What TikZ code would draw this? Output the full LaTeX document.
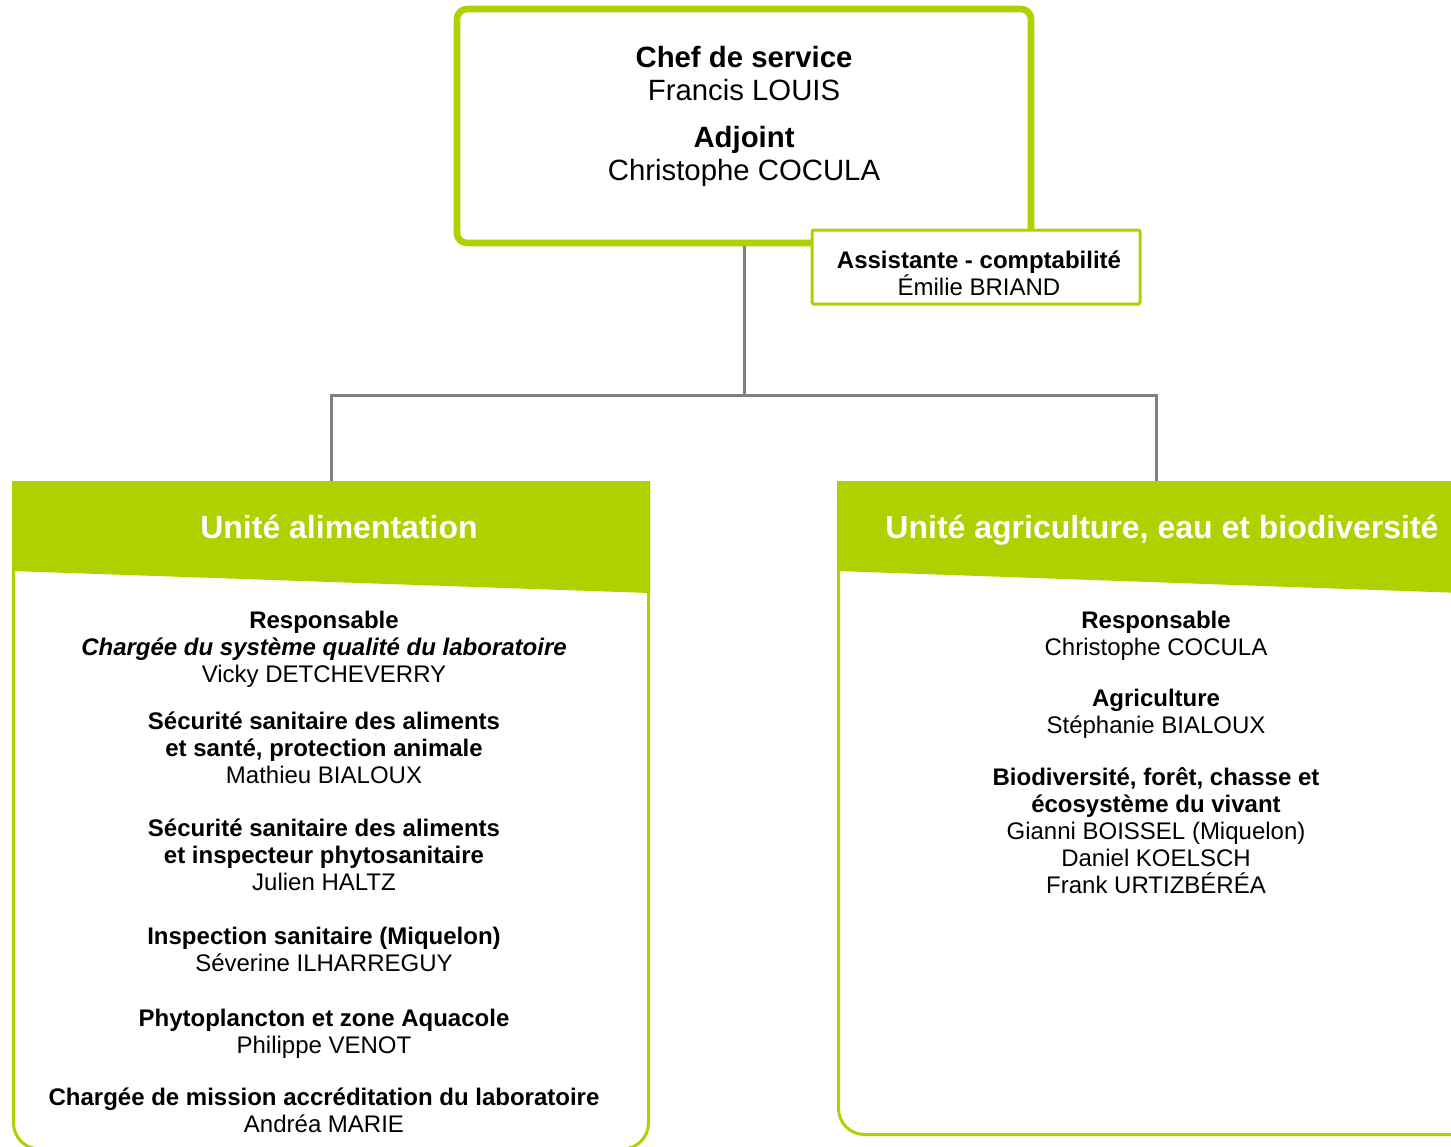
\documentclass[tikz,border=0pt]{standalone}
\usepackage{fontspec}
\setmainfont{Liberation Sans}
\definecolor{leafgreen}{RGB}{176,208,0}
\definecolor{linkgray}{RGB}{128,128,128}

\begin{document}
\begin{tikzpicture}[x=0.75pt,y=0.75pt,yscale=-1,xscale=1,
    chefbox/.style={draw=leafgreen, line width=5pt, rounded corners=7.5pt, fill=white, minimum width=430.5pt, minimum height=175.5pt, inner sep=0pt},
    assistbox/.style={draw=leafgreen, line width=2.25pt, rounded corners=1.5pt, fill=white, minimum width=246pt, minimum height=55.5pt, inner sep=0pt},
    unitline/.style={draw=leafgreen, line width=2.25pt, rounded corners=19.5pt},
    link/.style={draw=linkgray, line width=2.25pt},
    headtxt/.style={text=white, font=\fontsize{24}{28}\selectfont\bfseries, anchor=base, inner sep=0pt},
    bodytxt/.style={align=center, font=\fontsize{18}{20.25}\selectfont, anchor=base, inner sep=0pt},
  ]
\useasboundingbox (0,0) rectangle (1451,1146);

% Top box
\node[chefbox] (chef) at (744,126) {};
\node[align=center, anchor=base, inner sep=0pt, font=\fontsize{22}{24.75}\selectfont] (cheftxt) at (744,180)
  {\textbf{Chef de service}\\Francis LOUIS\\[10.5pt]\textbf{Adjoint}\\Christophe COCULA};

% Assistant box
\node[assistbox] (assist) at (976,267) {};
\node[bodytxt] (assisttxt) at (979,295) {\textbf{Assistante - comptabilité}\\Émilie BRIAND};

% Unit frames
\coordinate (alimtop) at (331,481);
\coordinate (agritop) at (1156,481);
\fill[leafgreen] (12,481) -- (650,481) -- (650,593) -- (12,571) -- cycle;
\draw[unitline] (13.5,481) -- (13.5,1149) -- (648.5,1149) -- (648.5,481);
\fill[leafgreen] (837,481) -- (1490,481) -- (1490,594) -- (837,571) -- cycle;
\draw[unitline] (838.5,481) -- (838.5,1134.5) -- (1500,1134.5);

%Straight Lines
\draw[link] (chef.south) -- ++(0,149) -| (alimtop);
\draw[link] (chef.south) -- ++(0,149) -| (agritop);

% Text Node
\node[headtxt] (alimhead) at (339,538) {Unité alimentation};
\node[headtxt] (agrihead) at (1162,538) {Unité agriculture, eau et biodiversité};

% Text Node
\node[bodytxt] (resp) at (324,682) {\textbf{Responsable}\\\textbf{\textit{Chargée du système qualité du laboratoire}}\\Vicky DETCHEVERRY};
\node[bodytxt] (secali) at (324,783) {\textbf{Sécurité sanitaire des aliments}\\\textbf{et santé, protection animale}\\Mathieu BIALOUX};
\node[bodytxt] (secphyto) at (324,890) {\textbf{Sécurité sanitaire des aliments}\\\textbf{et inspecteur phytosanitaire}\\Julien HALTZ};
\node[bodytxt] (inspmiq) at (324,971) {\textbf{Inspection sanitaire (Miquelon)}\\Séverine ILHARREGUY};
\node[bodytxt] (phyto) at (324,1053) {\textbf{Phytoplancton et zone Aquacole}\\Philippe VENOT};
\node[bodytxt] (accred) at (324,1132) {\textbf{Chargée de mission accréditation du laboratoire}\\Andréa MARIE};

% Text Node
\node[bodytxt] (agriresp) at (1156,655) {\textbf{Responsable}\\Christophe COCULA};
\node[bodytxt] (agri) at (1156,733) {\textbf{Agriculture}\\Stéphanie BIALOUX};
\node[bodytxt] (biodiv) at (1156,893) {\textbf{Biodiversité, forêt, chasse et}\\\textbf{écosystème du vivant}\\Gianni BOISSEL (Miquelon)\\Daniel KOELSCH\\Frank URTIZBÉRÉA};

\end{tikzpicture}
\end{document}
